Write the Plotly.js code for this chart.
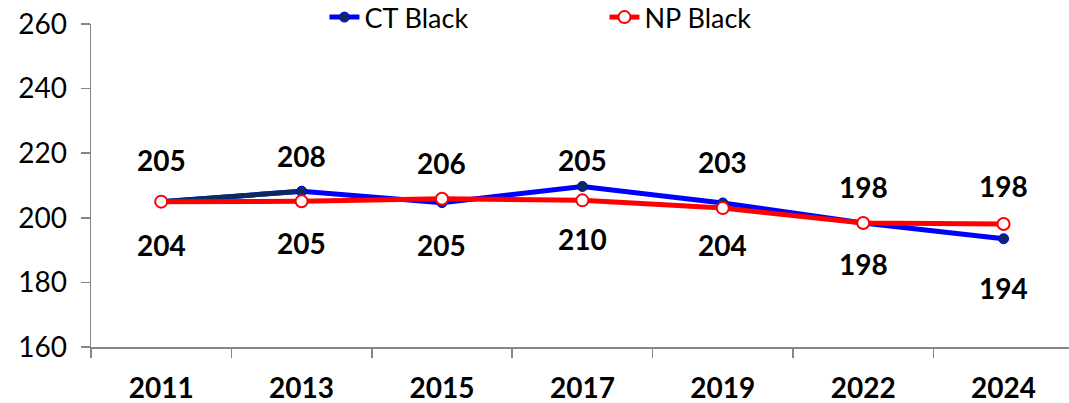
<!DOCTYPE html>
<html>
<head>
<meta charset="utf-8">
<script src="https://cdn.plot.ly/plotly-3.0.1.min.js"></script>
<style>
html,body{margin:0;padding:0;overflow:hidden;background:#fff;}
#chart{width:1069px;height:403px;}
</style>
</head>
<body>
<div id="chart"></div>
<script>
// ---- data ----
const years = ['2011', '2013', '2015', '2017', '2019', '2022', '2024'];
const ctBlack = [205.0, 208.2, 204.7, 209.7, 204.6, 198.4, 193.5];
const npBlack = [205.0, 205.1, 205.9, 205.4, 203.0, 198.4, 198.1];
const ctLabels = ['204', '208', '205', '210', '204', '198', '194'];
const npLabels = ['205', '205', '206', '205', '203', '198', '198'];
// which series' label sits above the lines in each year
const upperSeries = ['NP', 'CT', 'NP', 'NP', 'NP', 'NP', 'NP'];

// ---- styles ----
const FONT = 'Lato, "Liberation Sans", sans-serif';
const BLUE = '#0000FF', NAVY = '#0B2A5E', RED = '#FF0000', AXIS = '#868686';
// pixel offsets of the value labels from their points (style, not data)
const shiftUp = [42, 35, 36, 40, 46, 36, 38];
const shiftDown = [-43, -42, -42, -53, -42, -41, -49];

const traces = [
  {
    x: years, y: ctBlack, name: 'CT Black', type: 'scatter', mode: 'lines+markers',
    line: {color: BLUE, width: 5},
    marker: {color: NAVY, size: 10, line: {color: BLUE, width: 1}},
    cliponaxis: false
  },
  {
    x: years.slice(0, 2), y: ctBlack.slice(0, 2), type: 'scatter', mode: 'lines',
    line: {color: NAVY, width: 5}, showlegend: false, hoverinfo: 'skip'
  },
  {
    x: years.slice(0, 2), y: ctBlack.slice(0, 2), type: 'scatter', mode: 'markers',
    marker: {color: NAVY, size: 10, line: {color: BLUE, width: 1}}, showlegend: false, hoverinfo: 'skip'
  },
  {
    x: years, y: npBlack, name: 'NP Black', type: 'scatter', mode: 'lines+markers',
    line: {color: RED, width: 5},
    marker: {color: '#FFFFFF', size: 12, line: {color: RED, width: 2}},
    cliponaxis: false
  }
];

const annotations = [];
for (let i = 0; i < years.length; i++) {
  const ctUp = upperSeries[i] === 'CT';
  const upV = ctUp ? ctBlack[i] : npBlack[i];
  const upT = ctUp ? ctLabels[i] : npLabels[i];
  const dnV = ctUp ? npBlack[i] : ctBlack[i];
  const dnT = ctUp ? npLabels[i] : ctLabels[i];
  annotations.push({x: i, y: upV, xref: 'x', yref: 'y', text: '<b>' + upT + '</b>', showarrow: false,
    yshift: shiftUp[i], font: {family: FONT, size: 28, color: '#000000'}});
  annotations.push({x: i, y: dnV, xref: 'x', yref: 'y', text: '<b>' + dnT + '</b>', showarrow: false,
    yshift: shiftDown[i], font: {family: FONT, size: 28, color: '#000000'}});
}

const layout = {
  width: 1069, height: 403,
  margin: {l: 91, r: 0, t: 24, b: 56, autoexpand: false},
  paper_bgcolor: '#fff', plot_bgcolor: '#fff',
  font: {family: FONT, color: '#000'},
  showlegend: true,
  legend: {
    orientation: 'h', x: 0.525, xanchor: 'center', y: 1.02, yanchor: 'middle',
    font: {family: FONT, size: 27, color: '#000'}, entrywidth: 235, bgcolor: 'rgba(0,0,0,0)'
  },
  xaxis: {
    type: 'category', range: [-0.5, 6.466], tickson: 'boundaries',
    showline: true, linecolor: AXIS, linewidth: 1.5, showgrid: false, zeroline: false,
    ticks: 'outside', ticklen: 9, tickcolor: AXIS, tickwidth: 1.5,
    ticklabelstandoff: 16,
    tickfont: {family: FONT, size: 28, color: '#000', weight: 'bold'}
  },
  yaxis: {
    range: [160, 260], tickvals: [160, 180, 200, 220, 240, 260],
    showline: true, linecolor: AXIS, linewidth: 1.5, showgrid: false, zeroline: false,
    ticks: 'outside', ticklen: 9, tickcolor: AXIS, tickwidth: 1.5,
    ticklabelstandoff: 8,
    tickfont: {family: FONT, size: 28, color: '#000'}
  },
  annotations: annotations
};

Plotly.newPlot('chart', traces, layout, {staticPlot: true, displayModeBar: false});
</script>
</body>
</html>
